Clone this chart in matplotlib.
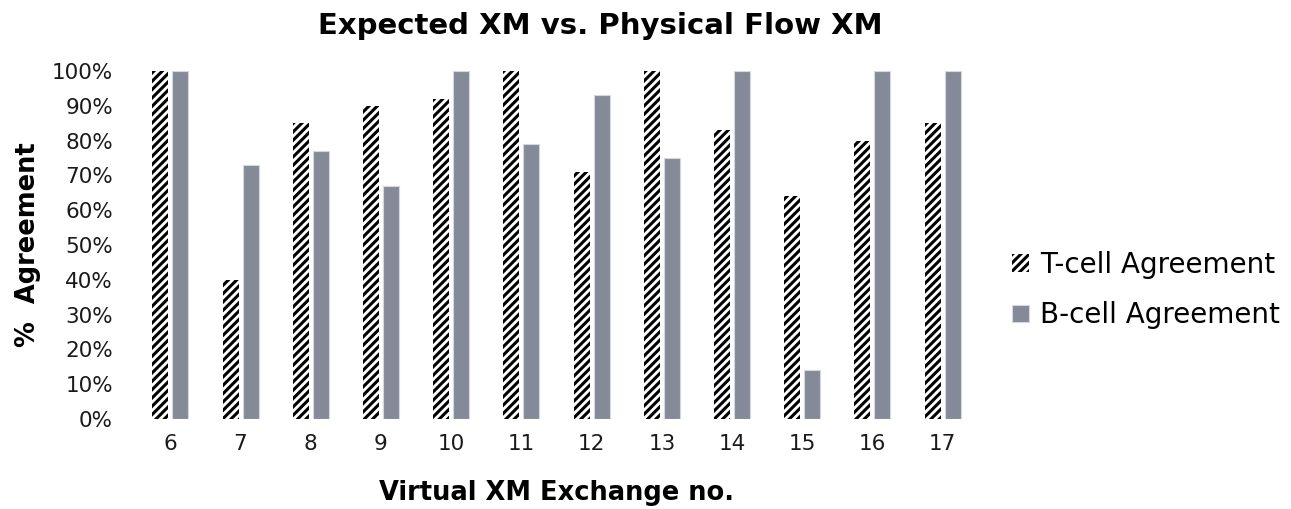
import matplotlib
matplotlib.use("Agg")
import matplotlib.pyplot as plt
import numpy as np

# Data
exchanges = ["6", "7", "8", "9", "10", "11", "12", "13", "14", "15", "16", "17"]
t_cell = [100, 40, 85, 90, 92, 100, 71, 100, 83, 64, 80, 85]
b_cell = [100, 73, 77, 67, 100, 79, 93, 75, 100, 14, 100, 100]
y_ticks = [0, 10, 20, 30, 40, 50, 60, 70, 80, 90, 100]

plt.rcParams["font.family"] = ["DejaVu Sans"]
plt.rcParams["hatch.linewidth"] = 2.2
plt.rcParams["hatch.color"] = "black"

W, H = 1291, 509
ax_left, ax_right, ax_top, ax_bottom = 135.2, 977.8, 71, 419
fig = plt.figure(figsize=(W / 100, H / 100), dpi=100)
ax = fig.add_axes([ax_left / W, 1 - ax_bottom / H,
                   (ax_right - ax_left) / W, (ax_bottom - ax_top) / H])

x = np.arange(len(exchanges))
bw = 0.228
gap = 0.057
off = (bw + gap) / 2

ax.bar(x - off, t_cell, width=bw, facecolor="white", edgecolor="black",
       linewidth=0, hatch="////", label="T-cell Agreement")
ax.bar(x + off, b_cell, width=bw, color="#858a99", edgecolor="#d5d7de",
       linewidth=0.8, label="B-cell Agreement")

ax.set_xlim(-0.5, len(exchanges) - 0.5)
ax.set_ylim(0, 100)
ax.set_xticks(x)
ax.set_xticklabels(exchanges)
ax.set_yticks(y_ticks)
ax.set_yticklabels([f"{v}%" for v in y_ticks])
ax.tick_params(axis="both", length=0, labelsize=15.5, colors="#1a1a1a")
ax.tick_params(axis="y", pad=16)
ax.tick_params(axis="x", pad=11)
for s in ax.spines.values():
    s.set_visible(False)

ax_w = ax_right - ax_left
ax_h = ax_bottom - ax_top
ax.set_xlabel("Virtual XM Exchange no.", fontsize=18.5, fontweight="bold")
ax.xaxis.set_label_coords(0.5, -(480 - ax_bottom) / ax_h)
ax.set_ylabel("%  Agreement", fontsize=18.5, fontweight="bold")
ax.yaxis.set_label_coords(-(ax_left - 41) / ax_w, 0.5)

fig.text(600 / W, 1 - 26 / H, "Expected XM vs. Physical Flow XM",
         ha="center", va="center", fontsize=21, fontweight="bold")

leg = fig.legend(loc="center left", bbox_to_anchor=(1001 / W, 1 - 290 / H),
                 frameon=False, fontsize=20, handlelength=0.6,
                 handleheight=0.6, handletextpad=0.4, labelspacing=0.8,
                 borderaxespad=0)

fig.savefig("out.png", dpi=100)
